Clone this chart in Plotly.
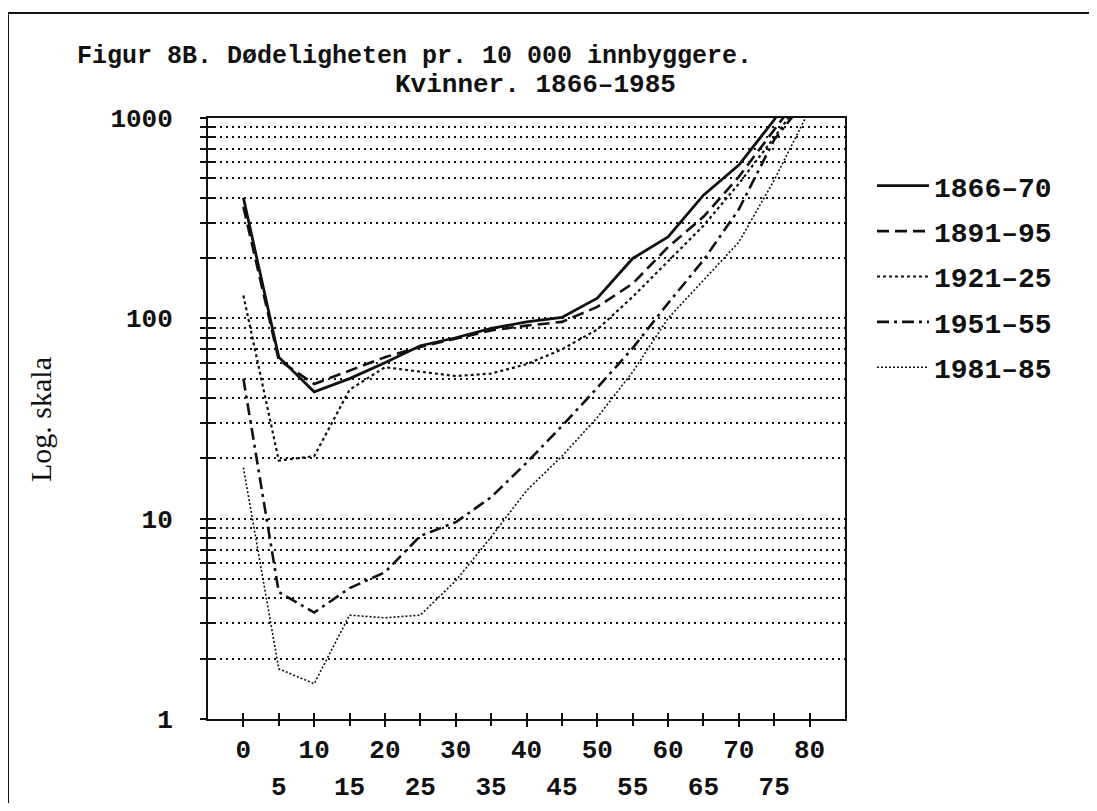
import plotly.graph_objects as go

# ---- data ----
ages = [0, 5, 10, 15, 20, 25, 30, 35, 40, 45, 50, 55, 60, 65, 70, 75, 80]
s1866_70 = [400, 64, 43, 50, 60, 73, 80, 89, 96, 101, 126, 199, 255, 412, 582, 980, 1800]
s1891_95 = [360, 62, 47, 55, 64, 72, 79, 87, 92, 96, 114, 149, 227, 321, 509, 880, 1500]
s1921_25 = [130, 19.5, 20.5, 44, 57, 54, 51.5, 53, 59, 70, 88, 128, 192, 290, 470, 800, 1400]
s1951_55 = [50, 4.3, 3.4, 4.5, 5.4, 8.2, 9.6, 12.8, 19, 29, 45, 71, 119, 195, 350, 780, 1300]
s1981_85 = [18, 1.78, 1.5, 3.3, 3.2, 3.3, 4.9, 8.1, 13.8, 20.5, 32, 54, 100, 155, 240, 490, 1100]
series_names = ["1866–70", "1891–95", "1921–25", "1951–55", "1981–85"]

x_tickvals = [0, 5, 10, 15, 20, 25, 30, 35, 40, 45, 50, 55, 60, 65, 70, 75, 80]
x_row1_vals = [0, 10, 20, 30, 40, 50, 60, 70, 80]
x_row1_text = ["0", "10", "20", "30", "40", "50", "60", "70", "80"]
x_row2_vals = [5, 15, 25, 35, 45, 55, 65, 75]
x_row2_text = ["5", "15", "25", "35", "45", "55", "65", "75"]
y_tickvals = [m * 10 ** e for e in range(3) for m in range(1, 10)] + [1000]
y_label_vals = [1, 10, 100, 1000]
y_label_text = ["1", "10", "100", "1000"]

title_line1 = "Figur 8B. Dødeligheten pr. 10 000 innbyggere."
title_line2 = "Kvinner. 1866–1985"
y_title = "Log. skala"

# ---- layout geometry (page pixels; the page body adds an 8px offset) ----
OFF = 8
W, H = 1097 - 2 * OFF, 811 - 2 * OFF               # keep page free of scrollbars
AX0, AX1, AY0, AY1 = 208, 845, 118, 719          # plot box in page pixels
L, R, T, B = AX0 - OFF, AX1 - OFF, AY0 - OFF, AY1 - OFF


def px(p):
    return (p - AX0) / (AX1 - AX0)


def py(p):
    return (AY1 - p) / (AY1 - AY0)


MONO = "Liberation Mono"
INK = "#111111"

styles = [
    dict(dash="solid", width=2.8),
    dict(dash="12px,6px", width=2.6),
    dict(dash="3px,3px", width=2.2),
    dict(dash="12px,5px,3px,5px", width=2.6),
    dict(dash="2px,2px", width=1.6),
]
data = [s1866_70, s1891_95, s1921_25, s1951_55, s1981_85]

fig = go.Figure()
for name, vals, st in zip(series_names, data, styles):
    fig.add_trace(go.Scatter(
        x=ages, y=vals, mode="lines", name=name, legendgroup=name,
        line=dict(color=INK, width=st["width"], dash=st["dash"]),
        hoverinfo="skip"))

# invisible carrier traces for the overlay axes
fig.add_trace(go.Scatter(x=ages, y=s1866_70, xaxis="x2", yaxis="y2", mode="lines",
                         line=dict(width=0), opacity=0, showlegend=False, hoverinfo="skip"))
fig.add_trace(go.Scatter(x=ages, y=s1866_70, xaxis="x3", yaxis="y", mode="lines",
                         line=dict(width=0), opacity=0, showlegend=False, hoverinfo="skip"))

tickfont = dict(family=MONO, size=26, color=INK, weight="bold")

fig.update_layout(
    width=W, height=H,
    margin=dict(l=L, r=W - R, t=T, b=H - B, pad=0, autoexpand=False),
    paper_bgcolor="white", plot_bgcolor="white",
    showlegend=True,
    legend=dict(
        x=px(872), y=py(161), xanchor="left", yanchor="top",
        font=dict(family=MONO, size=28, color=INK, weight="bold"),
        traceorder="grouped", tracegroupgap=6, itemwidth=52,
        bgcolor="rgba(0,0,0,0)", borderwidth=0,
    ),
    xaxis=dict(
        range=[-5, 85], tickmode="array", tickvals=x_row1_vals, ticktext=x_row1_text,
        ticks="outside", ticklen=6, tickwidth=2, tickcolor=INK,
        showline=True, linewidth=2, linecolor=INK, mirror=True,
        showgrid=False, zeroline=False, tickfont=tickfont, ticklabelstandoff=0,
        automargin=False, fixedrange=True,
    ),
    xaxis2=dict(
        overlaying="x", anchor="y2", side="bottom", range=[-5, 85],
        tickmode="array", tickvals=x_tickvals, ticks="inside", ticklen=6, tickwidth=2,
        tickcolor=INK, showticklabels=False, showgrid=False, zeroline=False,
        showline=False, automargin=False, fixedrange=True,
    ),
    xaxis3=dict(
        overlaying="x", anchor="y", side="bottom", range=[-5, 85],
        tickmode="array", tickvals=x_row2_vals, ticktext=x_row2_text,
        ticks="outside", ticklen=6, tickwidth=2, tickcolor=INK,
        showgrid=False, zeroline=False, showline=False,
        tickfont=tickfont, ticklabelstandoff=38, automargin=False, fixedrange=True,
    ),
    yaxis=dict(
        type="log", range=[0, 3], tickmode="array", tickvals=y_tickvals,
        ticktext=[y_label_text[y_label_vals.index(v)] if v in y_label_vals else ""
                  for v in y_tickvals],
        ticks="outside", ticklen=6, tickwidth=2, tickcolor=INK,
        showline=True, linewidth=2, linecolor=INK, mirror=True,
        showgrid=True, gridcolor="#111111", gridwidth=2, griddash="2px,4px",
        zeroline=False, tickfont=tickfont, ticklabelstandoff=22,
        automargin=False, fixedrange=True,
    ),
    yaxis2=dict(
        overlaying="y", anchor="x2", side="left", type="log", range=[0, 3],
        tickmode="array", tickvals=y_tickvals, ticks="inside", ticklen=6, tickwidth=2,
        tickcolor=INK, showticklabels=False, showgrid=False, zeroline=False,
        showline=False, automargin=False, fixedrange=True,
    ),
    annotations=[
        dict(text=title_line1, xref="paper", yref="paper", x=px(75), y=py(56),
             xanchor="left", yanchor="middle", showarrow=False,
             font=dict(family=MONO, size=25, color=INK, weight="bold")),
        dict(text=title_line2, xref="paper", yref="paper", x=px(393), y=py(85),
             xanchor="left", yanchor="middle", showarrow=False,
             font=dict(family=MONO, size=26, color=INK, weight="bold")),
        dict(text=y_title, xref="paper", yref="paper", x=px(40), y=py(420),
             xanchor="center", yanchor="middle", textangle=-90, showarrow=False,
             font=dict(family="Liberation Serif", size=30, color=INK)),
    ],
    shapes=[
        dict(type="line", xref="paper", yref="paper",
             x0=px(8), x1=px(1130), y0=py(13), y1=py(13),
             line=dict(color=INK, width=2), layer="above"),
        dict(type="line", xref="paper", yref="paper",
             x0=px(8), x1=px(8), y0=py(13), y1=py(840),
             line=dict(color=INK, width=2), layer="above"),
    ],
)

fig.write_html("out.html")
